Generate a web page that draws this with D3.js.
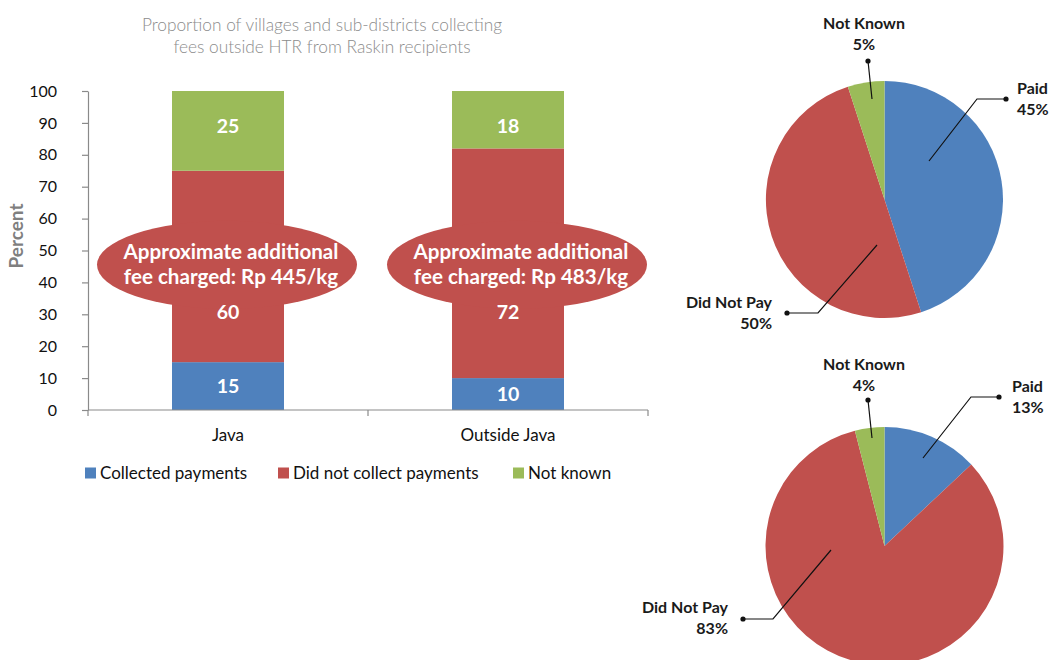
<!DOCTYPE html>
<html>
<head>
<meta charset="utf-8">
<script src="https://cdn.jsdelivr.net/npm/d3@7/dist/d3.min.js"></script>
<style>
  html, body { margin: 0; padding: 0; background: #fff; }
  svg { display: block; font-family: Lato, "Open Sans", sans-serif; }
</style>
</head>
<body>
<svg id="chart" width="1050" height="660"></svg>
<script>
// ---- data ----
const categories = ["Java", "Outside Java"];
const collectedPayments = [15, 10];
const didNotCollect = [60, 72];
const notKnownShare = [25, 18];
const seriesNames = ["Collected payments", "Did not collect payments", "Not known"];
const yTickValues = [0, 10, 20, 30, 40, 50, 60, 70, 80, 90, 100];
const feeCharged = ["Rp 445/kg", "Rp 483/kg"];
const titleLines = ["Proportion of villages and sub-districts collecting",
                    "fees outside HTR from Raskin recipients"];

const pieCategories = ["Paid", "Did Not Pay", "Not Known"];
const pieUpperValues = [45, 50, 5];
const pieLowerValues = [13, 83, 4];

// ---- styling ----
const colors = ["#4f81bd", "#c0504d", "#9bbb59"];
const axisColor = "#8a8a8a";

const svg = d3.select("#chart");

// ================= stacked bar chart =================
const plot = { left: 88, right: 648, top: 91, bottom: 410 };

const x = d3.scaleBand().domain(categories).range([plot.left, plot.right]).padding(0);
const y = d3.scaleLinear().domain([0, 100]).range([plot.bottom, plot.top]);
const barW = x.bandwidth() * 0.4;

const rows = categories.map((c, i) => ({
  category: c,
  [seriesNames[0]]: collectedPayments[i],
  [seriesNames[1]]: didNotCollect[i],
  [seriesNames[2]]: notKnownShare[i]
}));
const stacked = d3.stack().keys(seriesNames)(rows);

// title
svg.append("g").selectAll("text").data(titleLines).join("text")
  .attr("x", 322).attr("y", (d, i) => 31 + i * 21.5)
  .attr("text-anchor", "middle")
  .attr("font-size", 17.3).attr("font-weight", 300)
  .attr("fill", "#8c8c8c")
  .text(d => d);

// y axis
const yAxis = svg.append("g")
  .attr("transform", `translate(${plot.left},0)`)
  .call(d3.axisLeft(y).tickValues(yTickValues).tickSize(6).tickPadding(25).tickSizeOuter(0));
yAxis.select(".domain").attr("stroke", axisColor).attr("stroke-width", 1.2);
yAxis.selectAll(".tick line").attr("stroke", axisColor).attr("stroke-width", 1.2);
yAxis.selectAll(".tick text").attr("font-size", 16).attr("fill", "#111")
  .attr("font-family", "Lato, sans-serif");

// y axis title
svg.append("text")
  .attr("transform", "translate(23,236) rotate(-90)")
  .attr("text-anchor", "middle")
  .attr("font-size", 19).attr("font-weight", 700)
  .attr("fill", "#7f7f7f")
  .text("Percent");

// bars
const layers = svg.append("g").selectAll("g").data(stacked).join("g")
  .attr("fill", (d, i) => colors[i]);
layers.selectAll("rect").data(d => d).join("rect")
  .attr("x", d => x(d.data.category) + (x.bandwidth() - barW) / 2)
  .attr("width", barW)
  .attr("y", d => y(d[1]))
  .attr("height", d => y(d[0]) - y(d[1]));

// x axis with category boundary ticks
const xAxisG = svg.append("g");
xAxisG.append("line")
  .attr("x1", plot.left).attr("x2", plot.right)
  .attr("y1", plot.bottom).attr("y2", plot.bottom)
  .attr("stroke", axisColor).attr("stroke-width", 1.2);
const boundaries = categories.map(c => x(c)).concat([x(categories[categories.length - 1]) + x.bandwidth()]);
xAxisG.selectAll("line.b").data(boundaries).join("line").attr("class", "b")
  .attr("x1", d => d).attr("x2", d => d)
  .attr("y1", plot.bottom).attr("y2", plot.bottom + 6)
  .attr("stroke", axisColor).attr("stroke-width", 1.2);
xAxisG.selectAll("text").data(categories).join("text")
  .attr("x", d => x(d) + x.bandwidth() / 2)
  .attr("y", 441)
  .attr("text-anchor", "middle")
  .attr("font-size", 17).attr("fill", "#111")
  .text(d => d);

// callout ellipses with the fee text
const calloutDx = [-1, 9];
const calloutValue = 45.5;
const callouts = svg.append("g").selectAll("g").data(categories).join("g")
  .attr("transform", (d, i) => `translate(${x(d) + x.bandwidth() / 2 + calloutDx[i]},${y(calloutValue)})`);
callouts.append("ellipse")
  .attr("rx", 130).attr("ry", 44)
  .attr("fill", colors[1]);
callouts.append("text")
  .attr("text-anchor", "middle")
  .attr("fill", "#fff").attr("font-size", 20.6).attr("font-weight", 700)
  .selectAll("tspan")
  .data((d, i) => ["Approximate additional", "fee charged: " + feeCharged[i]])
  .join("tspan")
  .attr("x", 4)
  .attr("y", (d, i) => -6 + i * 25)
  .text(d => d);

// value labels, drawn above the callouts (red and green labels sit clear of the callout)
const labelAnchor = [null, 30.6, 89];
const valueLabels = svg.append("g");
stacked.forEach((layer, si) => {
  valueLabels.append("g").selectAll("text").data(layer).join("text")
    .attr("x", d => x(d.data.category) + x.bandwidth() / 2)
    .attr("y", d => y(labelAnchor[si] === null ? (d[0] + d[1]) / 2 : labelAnchor[si]))
    .attr("dy", "0.36em")
    .attr("text-anchor", "middle")
    .attr("fill", "#fff").attr("font-size", 19.5).attr("font-weight", 700)
    .text(d => d[1] - d[0]);
});

// legend
const legendX = [85, 278, 513];
const legend = svg.append("g").selectAll("g").data(seriesNames).join("g")
  .attr("transform", (d, i) => `translate(${legendX[i]},473)`);
legend.append("rect")
  .attr("x", 0).attr("y", -5.5).attr("width", 11).attr("height", 11)
  .attr("fill", (d, i) => colors[i]);
legend.append("text")
  .attr("x", 15).attr("dy", "0.36em")
  .attr("font-size", 17).attr("fill", "#111")
  .text(d => d);

// ================= pie charts =================
const pieGen = d3.pie().sort(null).value(d => d);
const arcGen = d3.arc().innerRadius(0);

const pies = [
  {
    values: pieUpperValues, cx: 884.5, cy: 199.5, r: 118.5,
    labels: [
      { anchor: "start", tx: 1017, ty: 94, pts: [[1006, 99], [977, 99], [929, 161]] },
      { anchor: "end", tx: 772, ty: 308, pts: [[787, 313], [818, 313], [877, 245]] },
      { anchor: "middle", tx: 864, ty: 29, pts: [[868, 61], [872, 99]] }
    ]
  },
  {
    values: pieLowerValues, cx: 884.5, cy: 546, r: 119,
    labels: [
      { anchor: "start", tx: 1012, ty: 392, pts: [[999, 397], [971, 397], [923, 458]] },
      { anchor: "end", tx: 728, ty: 613, pts: [[743, 619], [773, 619], [831, 550]] },
      { anchor: "middle", tx: 864, ty: 370, pts: [[868, 400], [872, 438]] }
    ]
  }
];

pies.forEach(p => {
  const g = svg.append("g").attr("transform", `translate(${p.cx},${p.cy})`);
  g.selectAll("path").data(pieGen(p.values)).join("path")
    .attr("d", d => arcGen.outerRadius(p.r)(d))
    .attr("fill", (d, i) => colors[i]);

  const lg = svg.append("g");
  p.labels.forEach((lab, i) => {
    lg.append("path")
      .attr("d", d3.line()(lab.pts))
      .attr("fill", "none").attr("stroke", "#111").attr("stroke-width", 1.2);
    lg.append("circle")
      .attr("cx", lab.pts[0][0]).attr("cy", lab.pts[0][1]).attr("r", 2.6)
      .attr("fill", "#111");
    const t = lg.append("text")
      .attr("text-anchor", lab.anchor)
      .attr("font-size", 16).attr("font-weight", 700).attr("fill", "#1a1a1a");
    t.append("tspan").attr("x", lab.tx).attr("y", lab.ty).text(pieCategories[i]);
    t.append("tspan").attr("x", lab.tx).attr("y", lab.ty + 21).text(p.values[i] + "%");
  });
});
</script>
</body>
</html>
